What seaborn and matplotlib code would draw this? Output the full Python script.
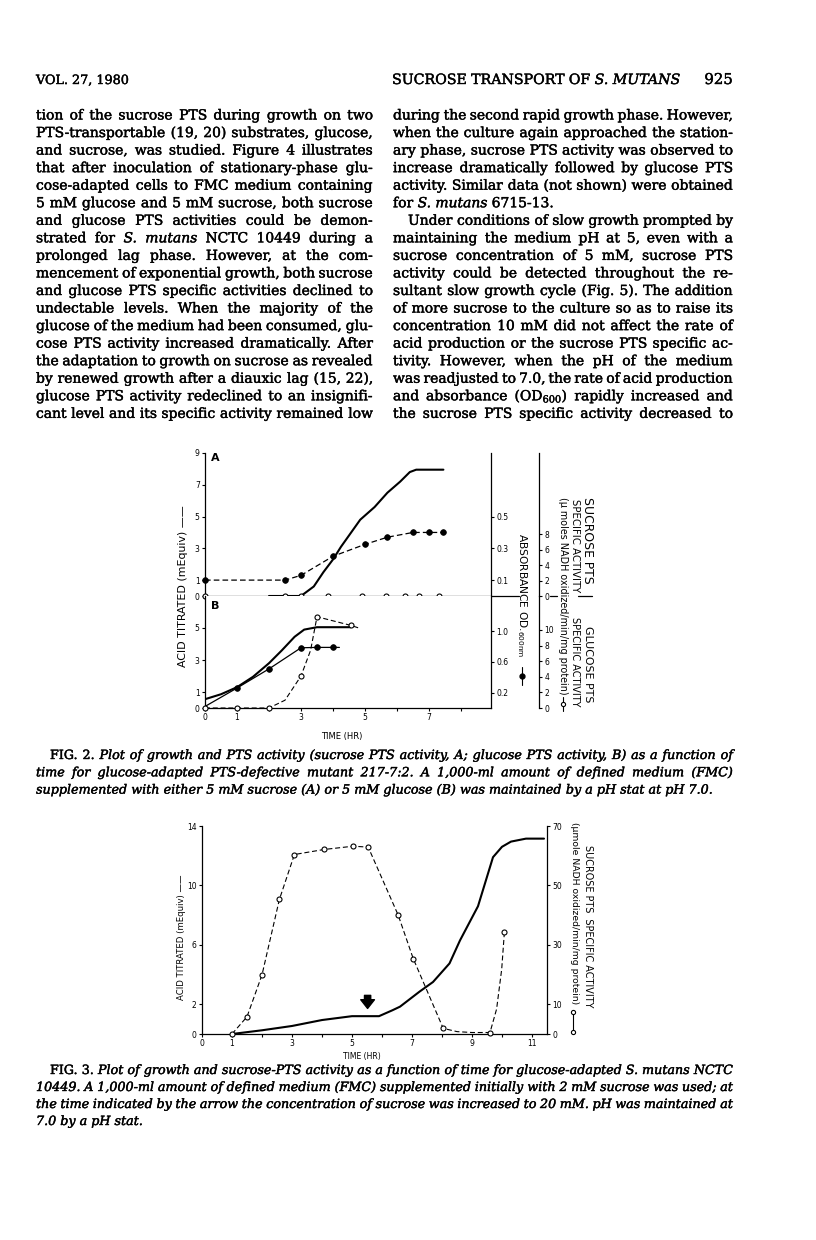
import seaborn as sns
import matplotlib.pyplot as plt
import matplotlib.patheffects as pe

################################
#            Data              #
################################

# Fig. 2A  (glucose-adapted mutant on sucrose)
acid_a_hr = [2.0, 3.0, 3.4, 3.7, 4.0, 4.25, 4.85, 5.3, 5.7, 6.1, 6.4, 6.6, 7.45]
acid_a = [0, 0, 0.6, 1.5, 2.3, 3.1, 4.8, 5.6, 6.5, 7.2, 7.8, 7.95, 7.95]
abs_a_hr = [0, 2.5, 3.0, 4.0, 5.0, 5.7, 6.5, 7.0, 7.45]
abs_a = [0.10, 0.10, 0.13, 0.25, 0.325, 0.37, 0.40, 0.40, 0.40]
suc_a_hr = [0, 2.5, 3.0, 3.85, 4.9, 5.65, 6.25, 6.7, 7.3]
suc_a = [0, 0, 0, 0, 0, 0, 0, 0, 0]

# Fig. 2B  (on glucose)
acid_b_hr = [0, 0.5, 1.0, 1.5, 2.0, 2.4, 2.8, 3.1, 3.5, 4.55]
acid_b = [0.55, 0.86, 1.3, 1.95, 2.8, 3.6, 4.45, 4.9, 5.05, 5.05]
abs_b_hr = [0, 1, 2, 3, 3.5, 4.0, 4.2]
abs_b = [0.02, 0.26, 0.51, 0.785, 0.79, 0.79, 0.79]
abs_b_marked = [1, 2, 3, 4, 5]
glc_b_hr = [0, 1, 2, 2.5, 3.0, 3.3, 3.5, 4.55, 4.85]
glc_b = [0, 0, 0, 1.0, 4.1, 7.4, 11.7, 10.6, 10.2]
glc_b_marked = [0, 1, 2, 4, 6, 7]

# Fig. 3  (S. mutans NCTC 10449)
acid3_hr = [1.0, 2.0, 3.0, 4.0, 5.0, 5.9, 6.35, 6.6, 7.25, 7.7, 8.25, 8.6, 9.2, 9.7, 10.0, 10.3, 10.8, 11.4]
acid3 = [0, 0.25, 0.54, 0.94, 1.2, 1.2, 1.6, 1.84, 2.85, 3.5, 4.75, 6.3, 8.6, 11.9, 12.6, 12.95, 13.15, 13.15]
pts3_hr = [1.0, 1.5, 2.0, 2.58, 3.08, 4.07, 5.04, 5.54, 6.54, 7.04, 8.04, 8.5, 9.0, 9.6, 9.82, 9.99, 10.08]
pts3 = [0, 5.8, 19.9, 45.3, 60.4, 62.1, 63.2, 62.9, 40, 25.4, 1.9, 0.8, 0.5, 0.5, 8.4, 21.8, 34.3]
pts3_marked = [0, 1, 2, 3, 4, 5, 6, 7, 8, 9, 10, 13, 16]
arrow_hr = 5.52

header_left = "VOL. 27, 1980"
header_right = "SUCROSE TRANSPORT OF *S.* *MUTANS*"
page_no = "925"

left_col = [
    "tion of the sucrose PTS during growth on two",
    "PTS-transportable (19, 20) substrates, glucose,",
    "and sucrose, was studied. Figure 4 illustrates",
    "that after inoculation of stationary-phase glu-",
    "cose-adapted cells to FMC medium containing",
    "5 mM glucose and 5 mM sucrose, both sucrose",
    "and glucose PTS activities could be demon-",
    "strated for *S.* *mutans* NCTC 10449 during a",
    "prolonged lag phase. However, at the com-",
    "mencement of exponential growth, both sucrose",
    "and glucose PTS specific activities declined to",
    "undectable levels. When the majority of the",
    "glucose of the medium had been consumed, glu-",
    "cose PTS activity increased dramatically. After",
    "the adaptation to growth on sucrose as revealed",
    "by renewed growth after a diauxic lag (15, 22),",
    "glucose PTS activity redeclined to an insignifi-",
    "cant level and its specific activity remained low",
]
right_col = [
    "during the second rapid growth phase. However,",
    "when the culture again approached the station-",
    "ary phase, sucrose PTS activity was observed to",
    "increase dramatically followed by glucose PTS",
    "activity. Similar data (not shown) were obtained",
    "for *S.* *mutans* 6715-13.",
    "Under conditions of slow growth prompted by",
    "maintaining the medium pH at 5, even with a",
    "sucrose concentration of 5 mM, sucrose PTS",
    "activity could be detected throughout the re-",
    "sultant slow growth cycle (Fig. 5). The addition",
    "of more sucrose to the culture so as to raise its",
    "concentration 10 mM did not affect the rate of",
    "acid production or the sucrose PTS specific ac-",
    "tivity. However, when the pH of the medium",
    "was readjusted to 7.0, the rate of acid production",
    "and absorbance (OD$_{600}$) rapidly increased and",
    "the sucrose PTS specific activity decreased to",
]
right_par_end = 5
right_indent = 6

caption2 = [
    "*FIG.* *2.* Plot of growth and PTS activity (sucrose PTS activity, A; glucose PTS activity, B) as a function of",
    "time for glucose-adapted PTS-defective mutant 217-7:2. A 1,000-ml amount of defined medium (FMC)",
    "supplemented with either 5 mM sucrose (A) or 5 mM glucose (B) was maintained by a pH stat at pH 7.0.",
]
caption3 = [
    "*FIG.* *3.* Plot of growth and sucrose-PTS activity as a function of time for glucose-adapted S. mutans NCTC",
    "10449. A 1,000-ml amount of defined medium (FMC) supplemented initially with 2 mM sucrose was used; at",
    "the time indicated by the arrow the concentration of sucrose was increased to 20 mM. pH was maintained at",
    "7.0 by a pH stat.",
]

################################
#        Page set-up           #
################################

sns.set_theme(style='ticks', rc={
    'axes.edgecolor': 'black', 'axes.linewidth': 0.9,
    'xtick.color': 'black', 'ytick.color': 'black', 'text.color': 'black',
    'xtick.major.size': 2.3, 'ytick.major.size': 2.3,
    'xtick.major.width': 0.8, 'ytick.major.width': 0.8,
    'xtick.major.pad': 1.5, 'ytick.major.pad': 1.5,
    'xtick.labelsize': 5.5, 'ytick.labelsize': 5.5,
})
plt.rcParams['font.family'] = ['DejaVu Sans']
plt.rcParams['mathtext.fontset'] = 'dejavuserif'

W, H = 816, 1240
fig = plt.figure(figsize=(W / 100, H / 100), dpi=100)
fig.patch.set_facecolor('white')
renderer = fig.canvas.get_renderer()
INK = [pe.withStroke(linewidth=0.3, foreground='black')]

def box(x0, y0, x1, y1):
    # pixel box with top-left origin -> figure fraction
    return [x0 / W, 1 - y1 / H, (x1 - x0) / W, (y1 - y0) / H]

ov = fig.add_axes([0, 0, 1, 1], zorder=10)
ov.set_xlim(0, W)
ov.set_ylim(H, 0)
ov.axis('off')

def text_w(s, **kw):
    t = ov.text(0, 0, s, **kw)
    w = t.get_window_extent(renderer=renderer).width
    t.remove()
    return w

def tokens(line, base):
    out = []
    for w in line.split():
        st = base
        if len(w) > 2 and w[0] == '*' and w[-1] == '*':
            w = w[1:-1]
            st = 'normal' if base == 'italic' else 'italic'
        out.append((w, st))
    return out

def fit_size(lines, width, base='normal', family='DejaVu Serif', ref=10):
    sp = text_w('n n', fontsize=ref, family=family) - text_w('nn', fontsize=ref, family=family)
    worst = 0
    for line in lines:
        toks = tokens(line, base)
        nat = sum(text_w(w, fontsize=ref, family=family, style=st) for w, st in toks)
        worst = max(worst, nat + sp * (len(toks) - 1))
    return ref * width / worst

def put_line(line, x0, x1, y, size, base='normal', justify=True, family='DejaVu Serif'):
    toks = tokens(line, base)
    kw = dict(fontsize=size, family=family)
    ws = [text_w(w, style=st, **kw) for w, st in toks]
    if justify and len(toks) > 1:
        gap = (x1 - x0 - sum(ws)) / (len(toks) - 1)
    else:
        gap = text_w('n n', **kw) - text_w('nn', **kw)
    x = x0
    for (w, st), wd in zip(toks, ws):
        ov.text(x, y, w, style=st, ha='left', va='baseline', path_effects=INK, **kw)
        x += wd + gap

def rot_label(s, x, y, length, rot, family='DejaVu Sans'):
    size = 10 * length / text_w(s, fontsize=10, family=family)
    ov.text(x, y, s, fontsize=size, family=family, rotation=rot,
            ha='center', va='center', rotation_mode='anchor')

def line(ax, x, y, lw=0.9, ls='-', z=2):
    sns.lineplot(x=x, y=y, ax=ax, color='black', lw=lw, linestyle=ls,
                 sort=False, estimator=None, legend=False, zorder=z)

def dots(ax, x, y, filled, z=3):
    if filled:
        sns.scatterplot(x=x, y=y, ax=ax, s=17, color='black', edgecolor='black',
                        linewidth=0.5, zorder=z, clip_on=False, legend=False)
    else:
        sns.scatterplot(x=x, y=y, ax=ax, s=13, facecolor='white', edgecolor='black',
                        linewidth=0.8, zorder=z, clip_on=False, legend=False)

def only_spines(ax, keep):
    for k in ['left', 'right', 'top', 'bottom']:
        ax.spines[k].set_visible(k in keep)

DASH = (0, (4.5, 2.5))

################################
#          Body text           #
################################

LX0, LX1 = 36, 373
RX0, RX1 = 393, 733
BASE0, LEAD = 119.5, 17.55

put_line(header_left, LX0, LX1, 84, 9.2, justify=False)
hs = fit_size([header_right], 288)
put_line(header_right, 392, 680, 84, hs)
ov.text(RX1, 84, page_no, fontsize=hs * 1.05, family='DejaVu Serif', ha='right', va='baseline',
        path_effects=INK)

just_l = left_col[:-1]
just_r = [l for i, l in enumerate(right_col) if i not in (right_par_end, right_indent)]
bs = 1.03 * min(fit_size(just_l, LX1 - LX0), fit_size(just_r, RX1 - RX0))
for i, l in enumerate(left_col):
    put_line(l, LX0, LX1, BASE0 + i * LEAD, bs)
for i, l in enumerate(right_col):
    x0 = RX0 + 15 if i == right_indent else RX0
    put_line(l, x0, RX1, BASE0 + i * LEAD, bs, justify=(i != right_par_end))

cs = 1.03 * min(fit_size(caption2[:-1], RX1 - LX0 - 14, base='italic'),
                fit_size(caption3[:-1], RX1 - LX0 - 14, base='italic'))
for i, l in enumerate(caption2):
    x0 = LX0 + 14 if i == 0 else LX0
    put_line(l, x0, RX1, 759 + i * 17.3, cs, base='italic', justify=(i < len(caption2) - 1))
for i, l in enumerate(caption3):
    x0 = LX0 + 14 if i == 0 else LX0
    put_line(l, x0, RX1, 1074 + i * 17.0, cs, base='italic', justify=(i < len(caption3) - 1))

################################
#          Figure 2            #
################################

XMAX2 = (491 - 205) / 32.0
OFF2 = (539 - 205) / (491 - 205)

axA = fig.add_axes(box(205, 453, 491, 596))
axA.set_xlim(0, XMAX2)
axA.set_ylim(0, 9)
only_spines(axA, ['left', 'bottom'])
axA.set_xticks([])
axA.set_yticks([0, 1, 3, 5, 7, 9])
axA2 = axA.twinx()
axA2.set_ylim(0, 0.9)
only_spines(axA2, ['right'])
axA2.set_yticks([0.1, 0.3, 0.5])
axA2.set_yticklabels(['0.1', '0.3', '0.5'])
axA3 = axA.twinx()
axA3.set_ylim(0, 143 / 7.75)
only_spines(axA3, ['right'])
axA3.spines['right'].set_position(('axes', OFF2))
axA3.set_yticks([0, 2, 4, 6, 8])

axB = fig.add_axes(box(205, 596, 491, 708))
axB.set_xlim(0, XMAX2)
axB.set_ylim(0, 7)
only_spines(axB, ['left', 'bottom'])
axB.set_yticks([0, 1, 3, 5])
axB.set_xticks(range(0, 9))
axB.set_xticklabels(['0', '1', '', '3', '', '5', '', '7', ''])
axB2 = axB.twinx()
axB2.set_ylim(0, 1.46)
only_spines(axB2, ['right'])
axB2.set_yticks([0.2, 0.6, 1.0])
axB2.set_yticklabels(['0.2', '0.6', '1.0'])
axB3 = axB.twinx()
axB3.set_ylim(0, 112 / 7.8)
only_spines(axB3, ['right'])
axB3.spines['right'].set_position(('axes', OFF2))
axB3.set_yticks([0, 2, 4, 6, 8, 10])

# panel A
dots(axA3, suc_a_hr, suc_a, filled=False, z=2)
line(axA, acid_a_hr, acid_a, lw=1.5, z=4)
line(axA2, abs_a_hr, abs_a, lw=0.9, ls=DASH)
dots(axA2, abs_a_hr, abs_a, filled=True)

# panel B
line(axB, acid_b_hr, acid_b, lw=1.5)
line(axB2, abs_b_hr, abs_b, lw=0.9)
dots(axB2, [abs_b_hr[i] for i in abs_b_marked], [abs_b[i] for i in abs_b_marked], filled=True)
line(axB3, glc_b_hr, glc_b, lw=0.8, ls=DASH)
dots(axB3, [glc_b_hr[i] for i in glc_b_marked], [glc_b[i] for i in glc_b_marked], filled=False)

for a in [axA, axA2, axA3, axB, axB2, axB3]:
    a.set_xlabel('')
    a.set_ylabel('')

ov.text(215, 458, 'A', fontsize=8, weight='bold', ha='center', va='center')
ov.text(215, 606, 'B', fontsize=8, weight='bold', ha='center', va='center')
ov.text(342, 737, 'TIME (HR)', fontsize=6, ha='center', va='center')
rot_label('ACID TITRATED (mEquiv) \u2014\u2014', 183, 586, 162, 90)
rot_label('ABSORBANCE OD.$_{\\mathsf{600nm}}$', 522, 595, 124, 270)
rot_label('SUCROSE PTS', 588, 540, 86, 270)
rot_label('SPECIFIC ACTIVITY', 575, 546, 93, 270)
rot_label('(\u03bc moles NADH oxidized/min/mg protein)', 563, 596, 197, 270)
rot_label('GLUCOSE PTS', 588, 664, 76, 270)
rot_label('SPECIFIC ACTIVITY', 575, 662, 90, 270)
# little legend keys and the divider pieces
ov.plot([522, 522], [667, 685], color='black', lw=0.8)
ov.plot([522], [676], 'o', color='black', ms=3.5)
ov.plot([563, 563], [697, 711], color='black', lw=0.8)
ov.plot([563], [704], 'o', mfc='white', mec='black', ms=3, mew=0.8)
ov.plot([491, 519], [596, 596], color='black', lw=0.9)
ov.plot([550, 557], [596, 596], color='black', lw=0.9)
ov.plot([578, 592], [596, 596], color='black', lw=0.9)

################################
#          Figure 3            #
################################

ax3 = fig.add_axes(box(202, 826, 547, 1034))
ax3.set_xlim(0, (547 - 202) / 30.0)
ax3.set_ylim(0, 14)
only_spines(ax3, ['left', 'bottom'])
ax3.set_yticks([0, 2, 6, 10, 14])
ax3.set_xticks(range(0, 12))
ax3.set_xticklabels(['0', '1', '', '3', '', '5', '', '7', '', '9', '', '11'])
ax3r = ax3.twinx()
ax3r.set_ylim(0, 70)
only_spines(ax3r, ['right'])
ax3r.set_yticks([0, 10, 30, 50, 70])

line(ax3, acid3_hr, acid3, lw=1.5)
line(ax3r, pts3_hr, pts3, lw=0.8, ls=DASH)
dots(ax3r, [pts3_hr[i] for i in pts3_marked], [pts3[i] for i in pts3_marked], filled=False)
ax3.annotate('', xy=(arrow_hr, 1.72), xytext=(arrow_hr, 2.6),
             arrowprops=dict(arrowstyle='simple,head_width=1.1,head_length=0.7,tail_width=0.5',
                             color='black', mutation_scale=9, shrinkA=0, shrinkB=0))
for a in [ax3, ax3r]:
    a.set_xlabel('')
    a.set_ylabel('')

ov.text(362, 1057, 'TIME (HR)', fontsize=5.5, ha='center', va='center')
rot_label('ACID TITRATED (mEquiv) \u2014\u2014', 182, 937, 125, 90)
rot_label('SUCROSE PTS  SPECIFIC ACTIVITY', 588, 926, 162, 270)
rot_label('(\u03bcmole NADH oxidized/min/mg protein)', 575, 913, 183, 270)
ov.plot([573, 573], [1012, 1032], color='black', lw=0.8)
ov.plot([573, 573], [1012, 1032], 'o', mfc='white', mec='black', ms=3, mew=0.8)

fig.savefig('out.png', dpi=100)
